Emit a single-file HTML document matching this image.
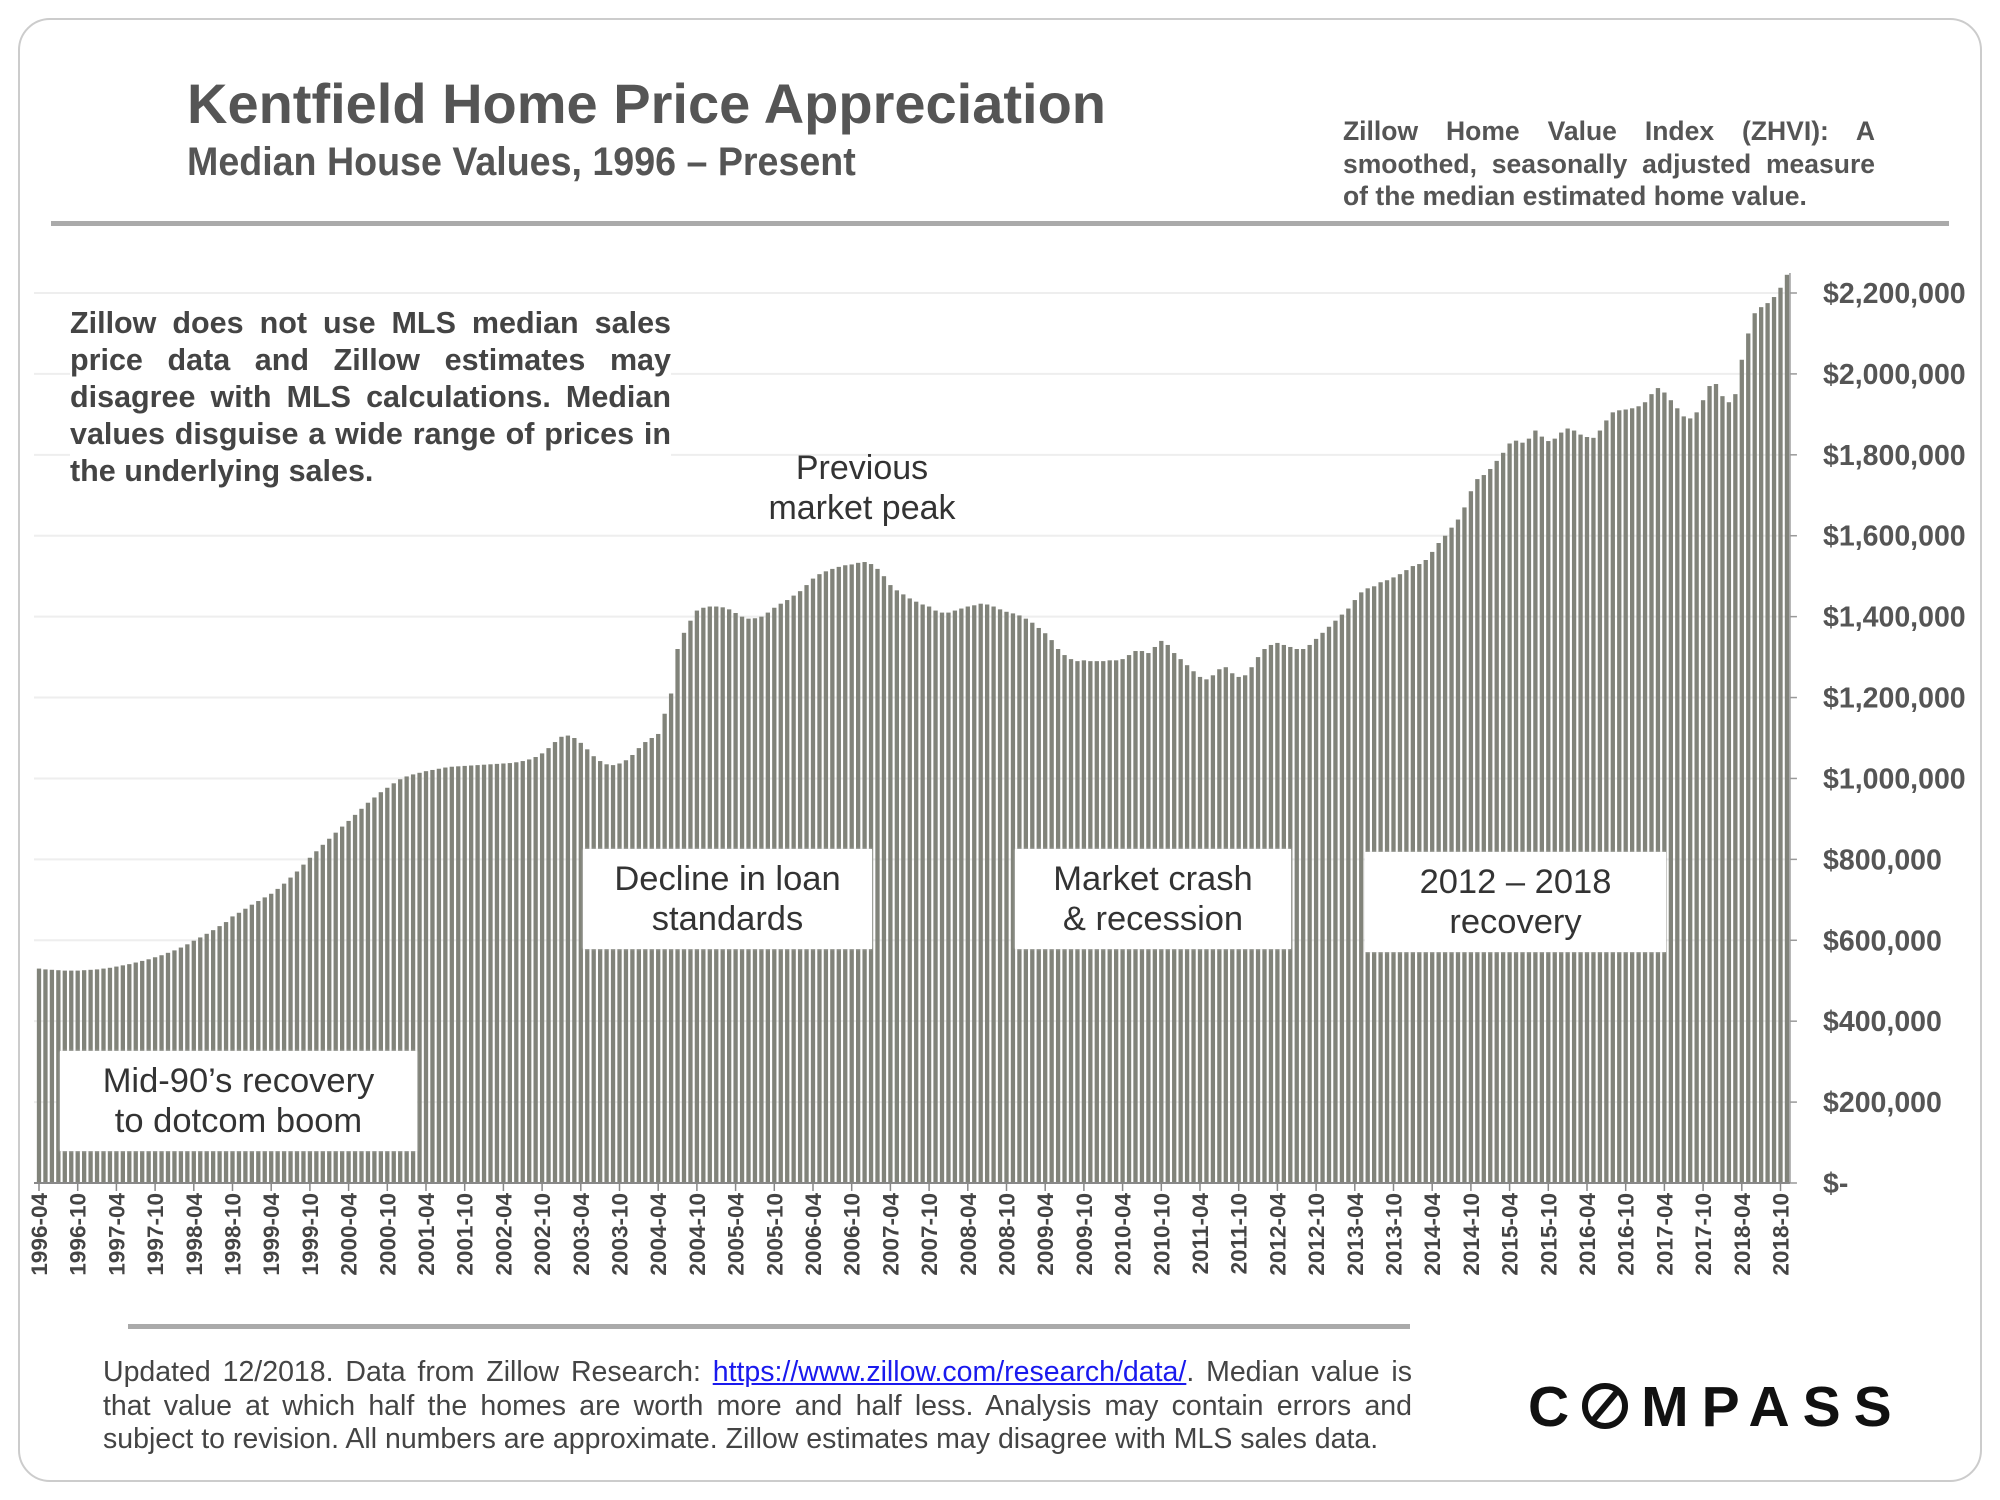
<!DOCTYPE html>
<html><head><meta charset="utf-8"><style>
body{margin:0;width:2000px;height:1500px;background:#fff;overflow:hidden;font-family:"Liberation Sans",sans-serif}
.abs{position:absolute}
.box{position:absolute;background:#fff;text-align:center;color:#333;font-size:34.5px;line-height:40px;display:flex;align-items:center;justify-content:center;box-shadow:0 0 2px #ddd}
</style></head><body>
<div class="abs" style="left:18px;top:18px;width:1960px;height:1460px;border:2px solid #ccc;border-radius:32px"></div>
<div class="abs" style="left:187px;top:71px;font-size:56px;font-weight:bold;color:#555">Kentfield Home Price Appreciation</div>
<div class="abs" style="left:187px;top:140px;font-size:40px;font-weight:bold;color:#555;font-family:'Liberation Sans Narrow','Liberation Sans',sans-serif;transform:scaleX(.94);transform-origin:left">Median House Values, 1996 – Present</div>
<div class="abs" style="left:1343px;top:115px;width:532px;font-size:26.5px;font-weight:bold;color:#555;line-height:32.5px;text-align:justify;text-align-last:left">Zillow Home Value Index (ZHVI): A smoothed, seasonally adjusted measure of the median estimated home value.</div>
<div class="abs" style="left:51px;top:221px;width:1898px;height:5px;background:#aaa"></div>
<svg class="abs" style="left:0;top:0" width="2000" height="1500" id="chart"></svg>
<div class="abs" style="left:70px;top:305px;width:601px;font-size:30.5px;font-weight:bold;color:#444;line-height:37px;text-align:justify;background:#fff">Zillow does not use MLS median sales price data and Zillow estimates may disagree with MLS calculations. Median values disguise a wide range of prices in the underlying sales.</div>
<div class="abs" style="left:712px;top:448px;width:300px;text-align:center;font-size:34px;line-height:40px;color:#333">Previous<br>market peak</div>
<div class="box" style="left:583px;top:849px;width:289px;height:100px">Decline in loan<br>standards</div>
<div class="box" style="left:1015px;top:849px;width:276px;height:100px">Market crash<br>&amp; recession</div>
<div class="box" style="left:1365px;top:852px;width:301px;height:100px">2012 – 2018<br>recovery</div>
<div class="box" style="left:60px;top:1051px;width:357px;height:100px">Mid-90’s recovery<br>to dotcom boom</div>
<div class="abs" style="left:128px;top:1324px;width:1282px;height:5px;background:#aaa"></div>
<div class="abs" style="left:103px;top:1356px;width:1309px;font-size:28.5px;color:#444;line-height:33.5px;text-align:justify">Updated 12/2018. Data from Zillow Research: <a style="color:#1a1aee;text-decoration:underline">https://www.zillow.com/research/data/</a>. Median value is that value at which half the homes are worth more and half less. Analysis may contain errors and subject to revision. All numbers are approximate. Zillow estimates may disagree with MLS sales data.</div>
<div class="abs" style="left:1528px;top:1374px;font-size:57px;letter-spacing:13px;color:#111;font-weight:bold">C<span style="display:inline-block;width:46px;height:46px;border:6px solid #111;border-radius:50%;box-sizing:border-box;position:relative;top:3px;margin-right:13px"><span style="position:absolute;left:14px;top:-2px;width:6px;height:38px;background:#111;transform:rotate(40deg)"></span></span>MPASS</div>
<script>
const values=[530,528,527,526,525,525,525,526,527,
528,530,532,535,538,541,545,549,553,558,563,569,
575,582,590,599,607,616,625,635,645,659,668,678,
688,697,706,715,727,740,755,770,787,804,820,836,
851,866,881,895,910,925,940,953,966,977,988,998,
1005,1010,1014,1018,1021,1024,1027,1029,1030,1031,1032,1033,
1034,1035,1036,1037,1038,1040,1043,1047,1053,1062,1075,1090,
1103,1106,1100,1088,1072,1055,1043,1035,1033,1037,1045,1058,
1075,1090,1100,1110,1160,1210,1320,1360,1390,1415,1422,1425,
1425,1423,1418,1409,1400,1395,1396,1400,1410,1422,1432,1441,
1452,1463,1478,1494,1505,1512,1518,1523,1527,1529,1533,1535,
1530,1518,1500,1478,1465,1455,1445,1437,1430,1425,1415,1410,
1410,1415,1420,1425,1428,1432,1430,1425,1418,1412,1408,1403,
1395,1385,1372,1359,1342,1320,1305,1295,1290,1292,1290,1290,
1290,1292,1292,1295,1305,1315,1315,1310,1325,1340,1330,1310,
1295,1280,1265,1251,1245,1255,1270,1275,1260,1251,1255,1275,
1300,1320,1330,1335,1330,1325,1320,1320,1330,1345,1360,1375,
1390,1405,1420,1441,1460,1470,1475,1485,1490,1497,1505,1515,
1525,1530,1540,1560,1582,1600,1620,1640,1670,1710,1740,1750,
1765,1785,1805,1828,1835,1830,1840,1860,1845,1834,1840,1855,
1865,1860,1850,1844,1842,1860,1885,1905,1910,1912,1915,1920,
1930,1950,1965,1954,1935,1915,1895,1890,1905,1935,1970,1975,
1945,1930,1950,2035,2100,2150,2165,2175,2190,2213,2245];
const yTicks=[0,200,400,600,800,1000,1200,1400,1600,1800,2000,2200];
const yTickLabels=["$-","$200,000","$400,000","$600,000","$800,000","$1,000,000","$1,200,000","$1,400,000","$1,600,000","$1,800,000","$2,000,000","$2,200,000"];
const startYear=1996,startMonth=4;
const svg=document.getElementById('chart');const NS='http://www.w3.org/2000/svg';
const x0=39,step=6.45,y0=1183,yTop=293;
const X=i=>x0+i*step;
const Y=v=>y0-(v/2200)*(y0-yTop);
function mk(t,a){const e=document.createElementNS(NS,t);for(const k in a)e.setAttribute(k,a[k]);svg.appendChild(e);return e;}
const axX=X(values.length-1)+3;
yTicks.forEach((v,i)=>{
 if(v>0){const g=mk('line',{x1:34,x2:axX,y1:Y(v),y2:Y(v),stroke:'#eee','stroke-width':2});
 
 }
 const tk=mk('line',{x1:axX,x2:axX+7,y1:Y(v),y2:Y(v),stroke:'#999','stroke-width':1.5});
 
 
 const t=mk('text',{x:1823,y:Y(v)+10,'font-size':28.5,'font-weight':'bold',fill:'#555','font-family':'Liberation Sans, sans-serif'});
 t.textContent=yTickLabels[i];
 
 
});
values.forEach((v,i)=>{
 const r=mk('rect',{x:X(i)-2.15,y:Y(v),width:4.3,height:y0-Y(v),fill:'#81837a'});
 
 
});
const ax=mk('line',{x1:axX,x2:axX,y1:273,y2:y0,stroke:'#999','stroke-width':1.5});


const bx=mk('line',{x1:34,x2:axX,y1:y0,y2:y0,stroke:'#888','stroke-width':2});


values.forEach((v,i)=>{
 if(i%6!==0)return;
 const m=startMonth-1+i,yr=startYear+Math.floor(m/12),mo=m%12+1;
 const tk=mk('line',{x1:X(i),x2:X(i),y1:y0,y2:y0+8,stroke:'#888','stroke-width':1.5});
 
 
 const t=mk('text',{transform:`translate(${X(i)+8},1193) rotate(-90)`,'text-anchor':'end','font-size':22.5,'font-weight':'bold',fill:'#444','font-family':'Liberation Sans, sans-serif'});
 t.textContent=yr+'-'+String(mo).padStart(2,'0');
 
 
});
</script>
</body></html>
